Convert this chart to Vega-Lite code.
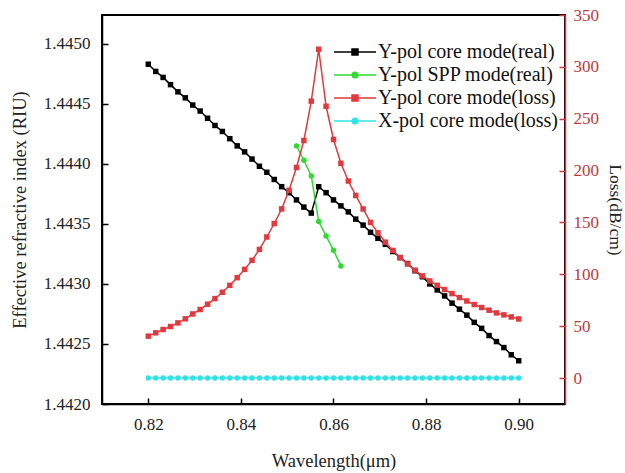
{
  "$schema": "https://vega.github.io/schema/vega-lite/v6.json",
  "width": 463,
  "height": 389,
  "autosize": "none",
  "padding": {"left": 102, "top": 15, "right": 60, "bottom": 69},
  "background": "white",
  "config": {
    "font": "Liberation Serif",
    "view": {"stroke": "black", "strokeWidth": 2},
    "axis": {"grid": false, "labelFont": "Liberation Serif", "titleFont": "Liberation Serif", "labelFontSize": 17, "titleFontSize": 18.5, "titleFontWeight": "normal", "labelColor": "#222", "titleColor": "#222", "domainColor": "black", "tickColor": "black", "domainWidth": 1.5, "tickWidth": 1.5, "tickSize": -6, "labelPadding": 18},
    "legend": {"labelFont": "Liberation Serif", "labelFontSize": 20, "labelColor": "#111", "labelLimit": 400}
  },
  "datasets": {
    "idx": [
      {"wl":0.8200,"s":"Y-pol core mode(real)","v":1.44483},
      {"wl":0.8216,"s":"Y-pol core mode(real)","v":1.44477},
      {"wl":0.8232,"s":"Y-pol core mode(real)","v":1.44472},
      {"wl":0.8248,"s":"Y-pol core mode(real)","v":1.44466},
      {"wl":0.8264,"s":"Y-pol core mode(real)","v":1.44460},
      {"wl":0.8280,"s":"Y-pol core mode(real)","v":1.44455},
      {"wl":0.8296,"s":"Y-pol core mode(real)","v":1.44449},
      {"wl":0.8312,"s":"Y-pol core mode(real)","v":1.44444},
      {"wl":0.8328,"s":"Y-pol core mode(real)","v":1.44438},
      {"wl":0.8344,"s":"Y-pol core mode(real)","v":1.44432},
      {"wl":0.8360,"s":"Y-pol core mode(real)","v":1.44427},
      {"wl":0.8376,"s":"Y-pol core mode(real)","v":1.44421},
      {"wl":0.8392,"s":"Y-pol core mode(real)","v":1.44415},
      {"wl":0.8408,"s":"Y-pol core mode(real)","v":1.44410},
      {"wl":0.8424,"s":"Y-pol core mode(real)","v":1.44404},
      {"wl":0.8440,"s":"Y-pol core mode(real)","v":1.44398},
      {"wl":0.8456,"s":"Y-pol core mode(real)","v":1.44393},
      {"wl":0.8472,"s":"Y-pol core mode(real)","v":1.44387},
      {"wl":0.8488,"s":"Y-pol core mode(real)","v":1.44381},
      {"wl":0.8504,"s":"Y-pol core mode(real)","v":1.44376},
      {"wl":0.8520,"s":"Y-pol core mode(real)","v":1.44370},
      {"wl":0.8536,"s":"Y-pol core mode(real)","v":1.44364},
      {"wl":0.8552,"s":"Y-pol core mode(real)","v":1.44359},
      {"wl":0.8568,"s":"Y-pol core mode(real)","v":1.44381},
      {"wl":0.8584,"s":"Y-pol core mode(real)","v":1.44376},
      {"wl":0.8600,"s":"Y-pol core mode(real)","v":1.44370},
      {"wl":0.8616,"s":"Y-pol core mode(real)","v":1.44365},
      {"wl":0.8632,"s":"Y-pol core mode(real)","v":1.44360},
      {"wl":0.8648,"s":"Y-pol core mode(real)","v":1.44354},
      {"wl":0.8664,"s":"Y-pol core mode(real)","v":1.44349},
      {"wl":0.8680,"s":"Y-pol core mode(real)","v":1.44343},
      {"wl":0.8696,"s":"Y-pol core mode(real)","v":1.44338},
      {"wl":0.8712,"s":"Y-pol core mode(real)","v":1.44333},
      {"wl":0.8728,"s":"Y-pol core mode(real)","v":1.44327},
      {"wl":0.8744,"s":"Y-pol core mode(real)","v":1.44322},
      {"wl":0.8760,"s":"Y-pol core mode(real)","v":1.44317},
      {"wl":0.8776,"s":"Y-pol core mode(real)","v":1.44311},
      {"wl":0.8792,"s":"Y-pol core mode(real)","v":1.44306},
      {"wl":0.8808,"s":"Y-pol core mode(real)","v":1.44300},
      {"wl":0.8824,"s":"Y-pol core mode(real)","v":1.44295},
      {"wl":0.8840,"s":"Y-pol core mode(real)","v":1.44290},
      {"wl":0.8856,"s":"Y-pol core mode(real)","v":1.44284},
      {"wl":0.8872,"s":"Y-pol core mode(real)","v":1.44279},
      {"wl":0.8888,"s":"Y-pol core mode(real)","v":1.44274},
      {"wl":0.8904,"s":"Y-pol core mode(real)","v":1.44268},
      {"wl":0.8920,"s":"Y-pol core mode(real)","v":1.44263},
      {"wl":0.8936,"s":"Y-pol core mode(real)","v":1.44257},
      {"wl":0.8952,"s":"Y-pol core mode(real)","v":1.44252},
      {"wl":0.8968,"s":"Y-pol core mode(real)","v":1.44247},
      {"wl":0.8984,"s":"Y-pol core mode(real)","v":1.44241},
      {"wl":0.9000,"s":"Y-pol core mode(real)","v":1.44236},
      {"wl":0.8520,"s":"Y-pol SPP mode(real)","v":1.44415},
      {"wl":0.8536,"s":"Y-pol SPP mode(real)","v":1.44403},
      {"wl":0.8552,"s":"Y-pol SPP mode(real)","v":1.44390},
      {"wl":0.8568,"s":"Y-pol SPP mode(real)","v":1.44352},
      {"wl":0.8584,"s":"Y-pol SPP mode(real)","v":1.44340},
      {"wl":0.8600,"s":"Y-pol SPP mode(real)","v":1.44328},
      {"wl":0.8616,"s":"Y-pol SPP mode(real)","v":1.44315}
    ],
    "loss": [
      {"wl":0.8200,"s":"Y-pol core mode(loss)","v":40.4},
      {"wl":0.8216,"s":"Y-pol core mode(loss)","v":43.6},
      {"wl":0.8232,"s":"Y-pol core mode(loss)","v":46.8},
      {"wl":0.8248,"s":"Y-pol core mode(loss)","v":49.7},
      {"wl":0.8264,"s":"Y-pol core mode(loss)","v":53.2},
      {"wl":0.8280,"s":"Y-pol core mode(loss)","v":57.1},
      {"wl":0.8296,"s":"Y-pol core mode(loss)","v":61.8},
      {"wl":0.8312,"s":"Y-pol core mode(loss)","v":66.1},
      {"wl":0.8328,"s":"Y-pol core mode(loss)","v":71.2},
      {"wl":0.8344,"s":"Y-pol core mode(loss)","v":76.6},
      {"wl":0.8360,"s":"Y-pol core mode(loss)","v":82.7},
      {"wl":0.8376,"s":"Y-pol core mode(loss)","v":89.4},
      {"wl":0.8392,"s":"Y-pol core mode(loss)","v":96.8},
      {"wl":0.8408,"s":"Y-pol core mode(loss)","v":104.8},
      {"wl":0.8424,"s":"Y-pol core mode(loss)","v":113.5},
      {"wl":0.8440,"s":"Y-pol core mode(loss)","v":124},
      {"wl":0.8456,"s":"Y-pol core mode(loss)","v":136},
      {"wl":0.8472,"s":"Y-pol core mode(loss)","v":149},
      {"wl":0.8488,"s":"Y-pol core mode(loss)","v":163},
      {"wl":0.8504,"s":"Y-pol core mode(loss)","v":181},
      {"wl":0.8520,"s":"Y-pol core mode(loss)","v":203},
      {"wl":0.8536,"s":"Y-pol core mode(loss)","v":229},
      {"wl":0.8552,"s":"Y-pol core mode(loss)","v":267},
      {"wl":0.8568,"s":"Y-pol core mode(loss)","v":317},
      {"wl":0.8584,"s":"Y-pol core mode(loss)","v":262},
      {"wl":0.8600,"s":"Y-pol core mode(loss)","v":230},
      {"wl":0.8616,"s":"Y-pol core mode(loss)","v":207},
      {"wl":0.8632,"s":"Y-pol core mode(loss)","v":190},
      {"wl":0.8648,"s":"Y-pol core mode(loss)","v":176},
      {"wl":0.8664,"s":"Y-pol core mode(loss)","v":163},
      {"wl":0.8680,"s":"Y-pol core mode(loss)","v":150},
      {"wl":0.8696,"s":"Y-pol core mode(loss)","v":140},
      {"wl":0.8712,"s":"Y-pol core mode(loss)","v":131},
      {"wl":0.8728,"s":"Y-pol core mode(loss)","v":123},
      {"wl":0.8744,"s":"Y-pol core mode(loss)","v":116},
      {"wl":0.8760,"s":"Y-pol core mode(loss)","v":110},
      {"wl":0.8776,"s":"Y-pol core mode(loss)","v":104},
      {"wl":0.8792,"s":"Y-pol core mode(loss)","v":98.5},
      {"wl":0.8808,"s":"Y-pol core mode(loss)","v":93.6},
      {"wl":0.8824,"s":"Y-pol core mode(loss)","v":89.4},
      {"wl":0.8840,"s":"Y-pol core mode(loss)","v":85.3},
      {"wl":0.8856,"s":"Y-pol core mode(loss)","v":81.4},
      {"wl":0.8872,"s":"Y-pol core mode(loss)","v":77.6},
      {"wl":0.8888,"s":"Y-pol core mode(loss)","v":74.3},
      {"wl":0.8904,"s":"Y-pol core mode(loss)","v":70.9},
      {"wl":0.8920,"s":"Y-pol core mode(loss)","v":68},
      {"wl":0.8936,"s":"Y-pol core mode(loss)","v":65.4},
      {"wl":0.8952,"s":"Y-pol core mode(loss)","v":62.8},
      {"wl":0.8968,"s":"Y-pol core mode(loss)","v":60.9},
      {"wl":0.8984,"s":"Y-pol core mode(loss)","v":58.9},
      {"wl":0.9000,"s":"Y-pol core mode(loss)","v":57},
      {"wl":0.8200,"s":"X-pol core mode(loss)","v":0},
      {"wl":0.8216,"s":"X-pol core mode(loss)","v":0},
      {"wl":0.8232,"s":"X-pol core mode(loss)","v":0},
      {"wl":0.8248,"s":"X-pol core mode(loss)","v":0},
      {"wl":0.8264,"s":"X-pol core mode(loss)","v":0},
      {"wl":0.8280,"s":"X-pol core mode(loss)","v":0},
      {"wl":0.8296,"s":"X-pol core mode(loss)","v":0},
      {"wl":0.8312,"s":"X-pol core mode(loss)","v":0},
      {"wl":0.8328,"s":"X-pol core mode(loss)","v":0},
      {"wl":0.8344,"s":"X-pol core mode(loss)","v":0},
      {"wl":0.8360,"s":"X-pol core mode(loss)","v":0},
      {"wl":0.8376,"s":"X-pol core mode(loss)","v":0},
      {"wl":0.8392,"s":"X-pol core mode(loss)","v":0},
      {"wl":0.8408,"s":"X-pol core mode(loss)","v":0},
      {"wl":0.8424,"s":"X-pol core mode(loss)","v":0},
      {"wl":0.8440,"s":"X-pol core mode(loss)","v":0},
      {"wl":0.8456,"s":"X-pol core mode(loss)","v":0},
      {"wl":0.8472,"s":"X-pol core mode(loss)","v":0},
      {"wl":0.8488,"s":"X-pol core mode(loss)","v":0},
      {"wl":0.8504,"s":"X-pol core mode(loss)","v":0},
      {"wl":0.8520,"s":"X-pol core mode(loss)","v":0},
      {"wl":0.8536,"s":"X-pol core mode(loss)","v":0},
      {"wl":0.8552,"s":"X-pol core mode(loss)","v":0},
      {"wl":0.8568,"s":"X-pol core mode(loss)","v":0},
      {"wl":0.8584,"s":"X-pol core mode(loss)","v":0},
      {"wl":0.8600,"s":"X-pol core mode(loss)","v":0},
      {"wl":0.8616,"s":"X-pol core mode(loss)","v":0},
      {"wl":0.8632,"s":"X-pol core mode(loss)","v":0},
      {"wl":0.8648,"s":"X-pol core mode(loss)","v":0},
      {"wl":0.8664,"s":"X-pol core mode(loss)","v":0},
      {"wl":0.8680,"s":"X-pol core mode(loss)","v":0},
      {"wl":0.8696,"s":"X-pol core mode(loss)","v":0},
      {"wl":0.8712,"s":"X-pol core mode(loss)","v":0},
      {"wl":0.8728,"s":"X-pol core mode(loss)","v":0},
      {"wl":0.8744,"s":"X-pol core mode(loss)","v":0},
      {"wl":0.8760,"s":"X-pol core mode(loss)","v":0},
      {"wl":0.8776,"s":"X-pol core mode(loss)","v":0},
      {"wl":0.8792,"s":"X-pol core mode(loss)","v":0},
      {"wl":0.8808,"s":"X-pol core mode(loss)","v":0},
      {"wl":0.8824,"s":"X-pol core mode(loss)","v":0},
      {"wl":0.8840,"s":"X-pol core mode(loss)","v":0},
      {"wl":0.8856,"s":"X-pol core mode(loss)","v":0},
      {"wl":0.8872,"s":"X-pol core mode(loss)","v":0},
      {"wl":0.8888,"s":"X-pol core mode(loss)","v":0},
      {"wl":0.8904,"s":"X-pol core mode(loss)","v":0},
      {"wl":0.8920,"s":"X-pol core mode(loss)","v":0},
      {"wl":0.8936,"s":"X-pol core mode(loss)","v":0},
      {"wl":0.8952,"s":"X-pol core mode(loss)","v":0},
      {"wl":0.8968,"s":"X-pol core mode(loss)","v":0},
      {"wl":0.8984,"s":"X-pol core mode(loss)","v":0},
      {"wl":0.9000,"s":"X-pol core mode(loss)","v":0}
    ]
  },
  "encoding": {
    "x": {"field": "wl", "type": "quantitative", "scale": {"domain": [0.81, 0.91], "nice": false, "zero": false},
      "axis": {"title": "Wavelength(μm)", "values": [0.82, 0.84, 0.86, 0.88, 0.90], "format": ".2f", "titlePadding": 19}},
    "color": {"field": "s", "type": "nominal",
      "scale": {"domain": ["Y-pol core mode(real)", "Y-pol SPP mode(real)", "Y-pol core mode(loss)", "X-pol core mode(loss)"],
                "range": ["#000000", "#2edc2e", "#e0393e", "#2fe3e8"]},
      "legend": {"title": null, "orient": "none", "legendX": 244, "legendY": 26,
        "symbolType": "M-2.3,0H1.9M-0.5,-0.3H0.1V0.3H-0.5Z", "symbolSize": 400, "symbolStrokeWidth": 1.5,
        "labelOffset": 10, "rowPadding": 2,
        "encode": {"symbols": {"update": {
          "shape": {"signal": "indexof(datum.value, 'SPP') >= 0 || indexof(datum.value, 'X-pol') >= 0 ? 'M-2.3,0H1.9M-0.48,0A0.28,0.28 0 1,0 0.08,0A0.28,0.28 0 1,0 -0.48,0Z' : 'M-2.3,0H1.9M-0.5,-0.3H0.1V0.3H-0.5Z'"},
          "fill": {"signal": "scale('color', datum.value)"},
          "stroke": {"signal": "scale('color', datum.value)"}
        }}}}
    }
  },
  "layer": [
    {
      "data": {"name": "idx"},
      "encoding": {
        "y": {"field": "v", "type": "quantitative", "scale": {"domain": [1.442, 1.44524], "nice": false, "zero": false},
          "axis": {"orient": "left", "title": "Effective refractive index (RIU)", "values": [1.442, 1.4425, 1.443, 1.4435, 1.444, 1.4445, 1.445], "format": ".4f", "titlePadding": 14}}
      },
      "layer": [
        {"mark": {"type": "line", "strokeWidth": 1.5}, "encoding": {"detail": {"field": "s"}}},
        {"mark": {"type": "point", "filled": true, "opacity": 1}, "encoding": {
          "shape": {"field": "s", "type": "nominal", "scale": {"domain": ["Y-pol core mode(real)", "Y-pol SPP mode(real)"], "range": ["square", "circle"]}, "legend": null},
          "size": {"value": 30}}}
      ]
    },
    {
      "data": {"name": "loss"},
      "encoding": {
        "y": {"field": "v", "type": "quantitative", "scale": {"domain": [-25, 350], "nice": false, "zero": false},
          "axis": {"orient": "right", "title": "Loss(dB/cm)", "titleFontSize": 17.5, "values": [0, 50, 100, 150, 200, 250, 300, 350], "labelColor": "#c0393c", "domainColor": "#d03a3f", "tickColor": "#d03a3f", "labelPadding": 14, "titlePadding": 7}}
      },
      "layer": [
        {"mark": {"type": "line", "strokeWidth": 1.5}, "encoding": {"detail": {"field": "s"}}},
        {"mark": {"type": "point", "filled": true, "opacity": 1}, "encoding": {
          "shape": {"field": "s", "type": "nominal", "scale": {"domain": ["Y-pol core mode(loss)", "X-pol core mode(loss)"], "range": ["square", "circle"]}, "legend": null},
          "size": {"value": 30}}}
      ]
    }
  ],
  "resolve": {"scale": {"y": "independent", "shape": "independent"}}
}
